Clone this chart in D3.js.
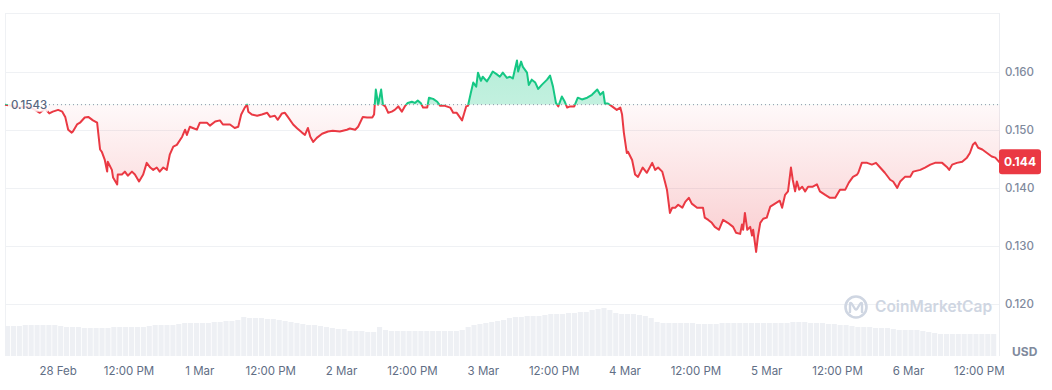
<!DOCTYPE html>
<html>
<head>
<meta charset="utf-8">
<script src="https://cdn.jsdelivr.net/npm/d3@7"></script>
<style>
  html, body { margin: 0; padding: 0; background: #fff; }
  svg { display: block; font-family: Inter, "Noto Sans", sans-serif; }
</style>
</head>
<body>
<svg class="graph" width="1052" height="390"></svg>
<script>
// price readings: hours since 27 Feb 15:00 UTC, and price in USD
const priceHours = [
  0, 1.2, 2.5, 3.9, 5.1, 5.9, 6.8, 7.5, 8.1, 9.0, 9.7, 10.2, 10.7, 11.3, 11.5, 12.2, 12.7, 13.5, 14.1, 14.9,
  15.6, 16.1, 16.4, 16.9, 17.3, 17.4, 18.1, 18.3, 19.0, 19.1, 19.8, 20.3, 20.8, 21.5, 22.0, 22.7, 23.4, 24.0, 24.6, 25.1,
  25.7, 26.2, 26.8, 27.4, 27.9, 28.5, 29.1, 30.0, 30.5, 30.8, 31.3, 31.8, 32.5, 33.0, 34.2, 34.7, 35.6, 36.4, 36.9, 38.1,
  38.9, 39.5, 40.0, 40.6, 41.0, 41.2, 41.8, 42.7, 43.5, 44.4, 44.9, 45.7, 46.2, 46.9, 47.4, 47.9, 48.8, 49.5, 50.3, 50.8,
  51.3, 51.7, 52.2, 52.8, 53.7, 54.7, 55.5, 56.7, 57.9, 58.4, 59.3, 59.8, 60.6, 61.3, 62.2, 62.5, 62.8, 63.2, 63.7, 64.0,
  64.4, 64.9, 65.5, 66.0, 66.6, 67.2, 67.7, 68.2, 68.9, 69.4, 69.9, 70.4, 70.8, 71.5, 71.8, 72.5, 73.2, 73.7, 74.5, 75.4,
  75.9, 76.5, 77.4, 77.7, 78.1, 78.4, 78.9, 79.3, 79.8, 80.1, 80.6, 80.9, 81.6, 82.1, 82.6, 83.3, 83.8, 84.3, 85.0, 85.5,
  86.0, 86.7, 86.9, 87.4, 87.7, 88.4, 88.7, 89.2, 89.8, 90.3, 90.9, 91.8, 92.3, 92.8, 93.3, 93.7, 94.3, 94.8, 95.2, 95.7,
  96.4, 97.0, 97.7, 98.6, 99.4, 100.3, 100.8, 101.3, 101.6, 102.1, 102.8, 103.6, 104.2, 104.5, 104.8, 105.3, 105.5, 106.2, 106.7, 107.2,
  108.0, 108.7, 109.6, 110.1, 110.6, 111.3, 111.8, 112.1, 112.6, 113.0, 113.5, 114.0, 114.7, 115.2, 115.8, 116.3, 117.2, 118.2, 118.5, 119.1,
  119.7, 120.2, 120.9, 121.6, 122.4, 123.3, 123.8, 124.5, 124.8, 125.0, 125.3, 125.7, 126.2, 126.5, 126.7, 127.2, 127.5, 127.9, 128.4, 129.0,
  129.6, 130.4, 131.2, 131.6, 132.1, 132.6, 133.1, 133.4, 133.8, 134.1, 134.5, 135.0, 135.5, 136.0, 136.8, 137.5, 138.0, 138.9, 139.7, 140.6,
  141.4, 142.3, 142.9, 143.6, 144.3, 144.5, 145.1, 146.0, 146.8, 147.5, 148.2, 149.0, 149.9, 150.4, 151.1, 151.6, 152.4, 153.3, 153.8, 155.0,
  155.8, 156.7, 157.5, 158.7, 159.5, 159.9, 160.4, 161.2, 162.1, 162.9, 163.4, 163.9, 164.3, 164.8, 165.5, 166.3, 167.1, 167.7, 168.5
];
const prices = [
  0.1543, 0.1541, 0.1538, 0.1540, 0.1534, 0.1529, 0.1536, 0.1528, 0.1531, 0.1534, 0.1531, 0.1522, 0.1500, 0.1495, 0.1497, 0.1509, 0.1512, 0.1521, 0.1522, 0.1516,
  0.1512, 0.1466, 0.1462, 0.1448, 0.1428, 0.1445, 0.1431, 0.1418, 0.1406, 0.1423, 0.1423, 0.1428, 0.1421, 0.1428, 0.1423, 0.1411, 0.1423, 0.1443, 0.1435, 0.1431,
  0.1435, 0.1428, 0.1435, 0.1431, 0.1457, 0.1471, 0.1474, 0.1488, 0.1500, 0.1491, 0.1505, 0.1503, 0.1500, 0.1512, 0.1512, 0.1507, 0.1514, 0.1516, 0.1509, 0.1509,
  0.1503, 0.1505, 0.1526, 0.1538, 0.1543, 0.1531, 0.1526, 0.1524, 0.1526, 0.1529, 0.1522, 0.1524, 0.1517, 0.1528, 0.1529, 0.1522, 0.1509, 0.1502, 0.1495, 0.1491,
  0.1503, 0.1488, 0.1479, 0.1486, 0.1493, 0.1497, 0.1498, 0.1497, 0.1500, 0.1502, 0.1500, 0.1505, 0.1522, 0.1521, 0.1521, 0.1526, 0.1569, 0.1543, 0.1569, 0.1543,
  0.1540, 0.1529, 0.1531, 0.1534, 0.1540, 0.1531, 0.1540, 0.1546, 0.1548, 0.1546, 0.1550, 0.1546, 0.1538, 0.1538, 0.1555, 0.1553, 0.1548, 0.1541, 0.1541, 0.1538,
  0.1529, 0.1529, 0.1516, 0.1526, 0.1540, 0.1541, 0.1564, 0.1581, 0.1574, 0.1598, 0.1584, 0.1591, 0.1583, 0.1591, 0.1600, 0.1595, 0.1591, 0.1598, 0.1589, 0.1591,
  0.1588, 0.1619, 0.1600, 0.1617, 0.1608, 0.1598, 0.1577, 0.1586, 0.1581, 0.1570, 0.1577, 0.1586, 0.1593, 0.1574, 0.1546, 0.1540, 0.1557, 0.1548, 0.1538, 0.1540,
  0.1540, 0.1555, 0.1552, 0.1555, 0.1560, 0.1569, 0.1560, 0.1565, 0.1545, 0.1545, 0.1540, 0.1534, 0.1538, 0.1526, 0.1495, 0.1460, 0.1462, 0.1448, 0.1423, 0.1419,
  0.1435, 0.1426, 0.1443, 0.1431, 0.1435, 0.1428, 0.1409, 0.1397, 0.1357, 0.1366, 0.1366, 0.1371, 0.1366, 0.1376, 0.1383, 0.1373, 0.1366, 0.1366, 0.1349, 0.1345,
  0.1340, 0.1333, 0.1328, 0.1345, 0.1340, 0.1333, 0.1323, 0.1321, 0.1337, 0.1328, 0.1357, 0.1328, 0.1333, 0.1318, 0.1328, 0.1290, 0.1316, 0.1340, 0.1347, 0.1349,
  0.1368, 0.1373, 0.1378, 0.1366, 0.1388, 0.1394, 0.1435, 0.1414, 0.1394, 0.1411, 0.1397, 0.1402, 0.1394, 0.1402, 0.1402, 0.1406, 0.1394, 0.1388, 0.1383, 0.1383,
  0.1397, 0.1397, 0.1409, 0.1419, 0.1423, 0.1426, 0.1443, 0.1443, 0.1440, 0.1443, 0.1435, 0.1426, 0.1414, 0.1411, 0.1400, 0.1411, 0.1419, 0.1419, 0.1428, 0.1431,
  0.1435, 0.1440, 0.1443, 0.1443, 0.1436, 0.1431, 0.1440, 0.1443, 0.1445, 0.1452, 0.1460, 0.1474, 0.1478, 0.1469, 0.1466, 0.1460, 0.1454, 0.1452, 0.1443
];
// hourly volume (M USD), starting 27 Feb 15:00 UTC
const volumes = [
  300, 300, 300, 310, 310, 310, 310, 310, 310, 300, 290, 290, 290, 280, 280, 280, 280, 280, 290, 290,
  290, 290, 290, 290, 300, 310, 310, 310, 310, 320, 330, 330, 330, 330, 330, 340, 340, 350, 350, 360,
  390, 380, 380, 380, 370, 370, 360, 350, 340, 330, 320, 310, 310, 300, 290, 280, 270, 270, 250, 250,
  250, 240, 240, 290, 260, 250, 250, 250, 250, 250, 250, 250, 250, 250, 250, 250, 250, 260, 290, 310,
  320, 330, 340, 350, 360, 380, 390, 390, 400, 400, 400, 410, 420, 420, 420, 430, 430, 440, 440, 460,
  470, 480, 460, 430, 420, 420, 420, 410, 400, 380, 340, 330, 330, 330, 330, 330, 330, 320, 320, 320,
  320, 330, 330, 330, 330, 330, 330, 330, 330, 330, 330, 330, 330, 340, 340, 340, 330, 330, 330, 320,
  320, 310, 310, 300, 290, 290, 290, 280, 280, 280, 270, 260, 260, 260, 260, 250, 240, 230, 220, 220,
  220, 220, 220, 220, 220, 220, 220, 220
];
const openPrice = 0.1543;
const lastLabel = "0.144";
const yTickValues = [0.12, 0.13, 0.14, 0.15, 0.16, 0.17];

const width = 1052;
const height = 390;
const plotLeft = 5;
const plotRight = 1000;
const plotTop = 13.3;
const plotBottom = 356;
const red = "#ea3943";
const green = "#16c784";

const startMs = Date.UTC(2025, 1, 27, 15, 0);
const hour = 3600 * 1000;
const data = priceHours.map((h, i) => ({ t: new Date(startMs + h * hour), p: prices[i] }));

const svg = d3.select("svg.graph").attr("viewBox", [0, 0, width, height]);

const xScale = d3
  .scaleUtc()
  .domain([new Date(startMs), new Date(startMs + 168.5 * hour)])
  .range([plotLeft, plotRight]);

const yScale = d3.scaleLinear().domain([0.12, 0.17]).range([304.3, plotTop]);

const volScale = d3.scaleLinear().domain([0, 500]).range([plotBottom, plotBottom - 50]);

const yBase = yScale(openPrice);

// gradients + clips
const defs = svg.append("defs");
const redGrad = defs
  .append("linearGradient")
  .attr("id", "redFill")
  .attr("gradientUnits", "userSpaceOnUse")
  .attr("x1", 0).attr("x2", 0)
  .attr("y1", yBase).attr("y2", 255);
redGrad.append("stop").attr("offset", 0).attr("stop-color", red).attr("stop-opacity", 0.03);
redGrad.append("stop").attr("offset", 1).attr("stop-color", red).attr("stop-opacity", 0.26);

const greenGrad = defs
  .append("linearGradient")
  .attr("id", "greenFill")
  .attr("gradientUnits", "userSpaceOnUse")
  .attr("x1", 0).attr("x2", 0)
  .attr("y1", 55).attr("y2", yBase);
greenGrad.append("stop").attr("offset", 0).attr("stop-color", green).attr("stop-opacity", 0.32);
greenGrad.append("stop").attr("offset", 1).attr("stop-color", green).attr("stop-opacity", 0.26);

defs.append("clipPath").attr("id", "above")
  .append("rect").attr("x", 0).attr("y", 0).attr("width", width).attr("height", yBase);
defs.append("clipPath").attr("id", "below")
  .append("rect").attr("x", 0).attr("y", yBase).attr("width", width).attr("height", height - yBase);

// grid
svg
  .append("g")
  .selectAll("line")
  .data(yTickValues)
  .enter()
  .append("line")
  .attr("x1", plotLeft)
  .attr("x2", plotRight)
  .attr("y1", (d) => Math.round(yScale(d)) + 0.5)
  .attr("y2", (d) => Math.round(yScale(d)) + 0.5)
  .attr("stroke", "#eff1f4")
  .attr("stroke-width", 1);

svg.append("line")
  .attr("x1", plotLeft + 0.5).attr("x2", plotLeft + 0.5)
  .attr("y1", plotTop).attr("y2", plotBottom)
  .attr("stroke", "#eff1f4");
svg.append("line")
  .attr("x1", plotRight - 0.5).attr("x2", plotRight - 0.5)
  .attr("y1", plotTop).attr("y2", plotBottom)
  .attr("stroke", "#eceef2");

// volume bars
const barW = xScale(new Date(startMs + hour)) - xScale(new Date(startMs));
svg
  .append("g")
  .attr("fill", "#eef0f4")
  .selectAll("rect")
  .data(volumes)
  .enter()
  .append("rect")
  .attr("x", (d, i) => xScale(new Date(startMs + i * hour)))
  .attr("width", barW - 0.8)
  .attr("y", (d) => volScale(d))
  .attr("height", (d) => volScale(0) - volScale(d));

// watermark
const wm = svg.append("g").attr("transform", "translate(856,307)");
wm.append("circle").attr("r", 10.5).attr("fill", "none").attr("stroke", "#cfd6e2").attr("stroke-width", 2.6);
wm.append("path")
  .attr("d", "M-6,5 L-6,-3 Q-6,-5 -4,-3 L-1,2 Q0,3 1,2 L4,-3 Q6,-5 6,-3 L6,5")
  .attr("fill", "none")
  .attr("stroke", "#cfd6e2")
  .attr("stroke-width", 2.4)
  .attr("stroke-linecap", "round")
  .attr("stroke-linejoin", "round");
svg.append("text")
  .attr("x", 875)
  .attr("y", 308)
  .attr("dominant-baseline", "middle")
  .attr("font-size", 15.5)
  .attr("font-weight", 600)
  .attr("fill", "#cfd6e2")
  .text("CoinMarketCap");

// fills between line and open price
const area = d3
  .area()
  .x((d) => xScale(d.t))
  .y0(yBase)
  .y1((d) => yScale(d.p));

svg.append("path").datum(data)
  .attr("clip-path", "url(#below)")
  .attr("fill", "url(#redFill)")
  .attr("d", area);
svg.append("path").datum(data)
  .attr("clip-path", "url(#above)")
  .attr("fill", "url(#greenFill)")
  .attr("d", area);

// dotted open price line
svg.append("line")
  .attr("x1", plotLeft)
  .attr("x2", plotRight)
  .attr("y1", yBase)
  .attr("y2", yBase)
  .attr("stroke", "#8a93a6")
  .attr("stroke-width", 1)
  .attr("stroke-dasharray", "1,3");

// price line, green above open, red below
const line = d3
  .line()
  .x((d) => xScale(d.t))
  .y((d) => yScale(d.p));

svg.append("path").datum(data)
  .attr("clip-path", "url(#below)")
  .attr("fill", "none")
  .attr("stroke", red)
  .attr("stroke-width", 2)
  .attr("stroke-linejoin", "round")
  .attr("d", line);
svg.append("path").datum(data)
  .attr("clip-path", "url(#above)")
  .attr("fill", "none")
  .attr("stroke", green)
  .attr("stroke-width", 2)
  .attr("stroke-linejoin", "round")
  .attr("d", line);

// open price label
svg.append("rect")
  .attr("x", 8)
  .attr("y", yBase - 7)
  .attr("width", 40)
  .attr("height", 14)
  .attr("fill", "#fff")
  .attr("opacity", 0.85);
svg.append("text")
  .attr("x", 11)
  .attr("y", yBase + 1)
  .attr("dominant-baseline", "middle")
  .attr("font-size", 11.5)
  .attr("font-weight", 500)
  .attr("fill", "#58667e")
  .text(d3.format(".4f")(openPrice));

// y axis labels
svg
  .append("g")
  .selectAll("text")
  .data(yTickValues.filter((d) => d < 0.165))
  .enter()
  .append("text")
  .attr("x", 1005)
  .attr("y", (d) => yScale(d) + 1)
  .attr("dominant-baseline", "middle")
  .attr("font-size", 11.5)
  .attr("font-weight", 500)
  .attr("fill", "#808a9d")
  .text((d) => d3.format(".3f")(d));

svg.append("text")
  .attr("x", 1012)
  .attr("y", 353)
  .attr("dominant-baseline", "middle")
  .attr("font-size", 12)
  .attr("font-weight", 700)
  .attr("fill", "#808a9d")
  .text("USD");

// x axis labels
const fmtDay = d3.utcFormat("%-d %b");
const fmtNoon = d3.utcFormat("%I:%M %p");
svg
  .append("g")
  .selectAll("text")
  .data(xScale.ticks(d3.utcHour.every(12)))
  .enter()
  .append("text")
  .attr("x", (d) => xScale(d))
  .attr("y", 372)
  .attr("text-anchor", "middle")
  .attr("dominant-baseline", "middle")
  .attr("font-size", 11.5)
  .attr("fill", "#616e85")
  .text((d) => (d.getUTCHours() === 0 ? fmtDay(d) : fmtNoon(d)));

// last price tag
const last = data[data.length - 1];
const lastY = yScale(last.p) - 1;
svg.append("rect")
  .attr("x", 999)
  .attr("y", lastY - 12.5)
  .attr("width", 42)
  .attr("height", 25)
  .attr("rx", 3)
  .attr("fill", red);
svg.append("text")
  .attr("x", 1020)
  .attr("y", lastY + 1)
  .attr("text-anchor", "middle")
  .attr("dominant-baseline", "middle")
  .attr("font-size", 12)
  .attr("font-weight", 700)
  .attr("fill", "#fff")
  .text(lastLabel);
</script>
</body>
</html>
